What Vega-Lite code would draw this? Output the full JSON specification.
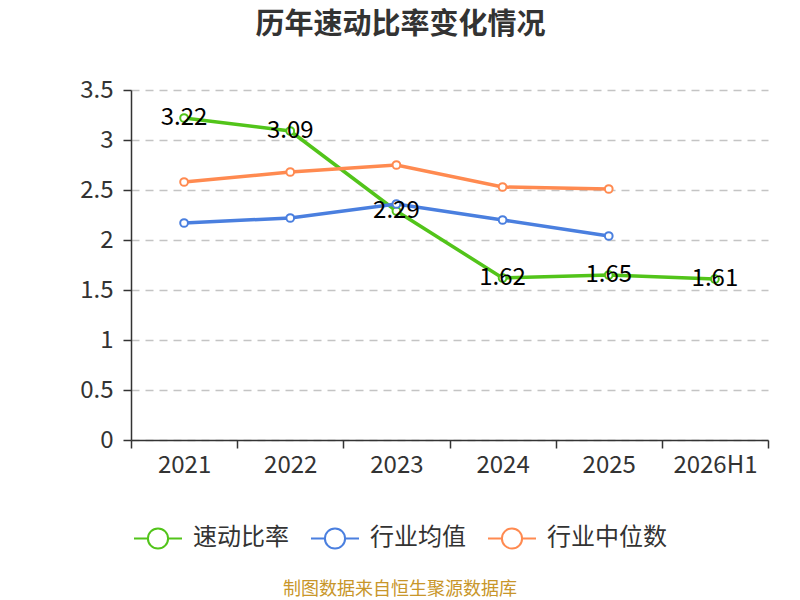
{
  "$schema": "https://vega.github.io/schema/vega-lite/v6.json",
  "width": 637,
  "height": 350,
  "autosize": {"type": "none"},
  "padding": {"left": 131, "top": 90, "right": 32, "bottom": 160},
  "background": "white",
  "config": {
    "font": "Noto Sans CJK SC",
    "view": {"stroke": null}
  },
  "title": {
    "text": "历年速动比率变化情况",
    "fontSize": 29,
    "fontWeight": "bold",
    "color": "#333333",
    "anchor": "middle",
    "frame": "group",
    "dx": -49,
    "offset": 38
  },
  "data": {
    "values": [
      {"year": "2021", "series": "速动比率", "value": 3.22},
      {"year": "2022", "series": "速动比率", "value": 3.09},
      {"year": "2023", "series": "速动比率", "value": 2.29},
      {"year": "2024", "series": "速动比率", "value": 1.62},
      {"year": "2025", "series": "速动比率", "value": 1.65},
      {"year": "2026H1", "series": "速动比率", "value": 1.61},
      {"year": "2021", "series": "行业均值", "value": 2.17},
      {"year": "2022", "series": "行业均值", "value": 2.22},
      {"year": "2023", "series": "行业均值", "value": 2.36},
      {"year": "2024", "series": "行业均值", "value": 2.2},
      {"year": "2025", "series": "行业均值", "value": 2.04},
      {"year": "2021", "series": "行业中位数", "value": 2.58},
      {"year": "2022", "series": "行业中位数", "value": 2.68},
      {"year": "2023", "series": "行业中位数", "value": 2.75},
      {"year": "2024", "series": "行业中位数", "value": 2.53},
      {"year": "2025", "series": "行业中位数", "value": 2.51}
    ]
  },
  "encoding": {
    "x": {
      "field": "year",
      "type": "ordinal",
      "sort": null,
      "scale": {"type": "band", "paddingInner": 0, "paddingOuter": 0},
      "axis": {
        "title": null,
        "labelAngle": 0,
        "labelFontSize": 24,
        "labelColor": "#333333",
        "labelPadding": 5,
        "tickBand": "extent",
        "tickSize": 8,
        "tickColor": "#333333",
        "tickWidth": 1.5,
        "domainColor": "#333333",
        "domainWidth": 1.5,
        "grid": false
      }
    },
    "y": {
      "field": "value",
      "type": "quantitative",
      "scale": {"domain": [0, 3.5], "nice": false},
      "axis": {
        "title": null,
        "values": [0, 0.5, 1, 1.5, 2, 2.5, 3, 3.5],
        "labelExpr": "datum.value",
        "labelFontSize": 24,
        "labelColor": "#333333",
        "labelPadding": 10,
        "tickSize": 8,
        "tickColor": "#333333",
        "tickWidth": 1.5,
        "domainColor": "#333333",
        "domainWidth": 1.5,
        "grid": true,
        "gridColor": "#c4c4c4",
        "gridDash": [8, 6],
        "gridWidth": 1.5
      }
    },
    "color": {
      "field": "series",
      "type": "nominal",
      "scale": {
        "domain": ["速动比率", "行业均值", "行业中位数"],
        "range": ["#52c41a", "#4a7fdf", "#ff8a50"]
      },
      "legend": {
        "title": "制图数据来自恒生聚源数据库",
        "titleOrient": "bottom",
        "titleAnchor": "middle",
        "titleColor": "#c8962a",
        "titleFontSize": 18,
        "titleFontWeight": "normal",
        "titleLimit": 600,
        "titlePadding": 28,
        "orient": "none",
        "direction": "horizontal",
        "legendX": 2,
        "legendY": 423,
        "padding": 0,
        "columnPadding": 18,
        "labelFontSize": 24,
        "labelLimit": 300,
        "labelColor": "#333333",
        "labelOffset": 10,
        "symbolType": "M-1,0L-0.42,0M0.42,0L1,0M-0.42,0A0.42,0.42,0,1,1,0.42,0A0.42,0.42,0,1,1,-0.42,0",
        "symbolSize": 2304,
        "symbolStrokeWidth": 2,
        "encode": {
          "symbols": {"update": {"fill": {"value": "white"}, "strokeWidth": {"value": 2}}}
        }
      }
    }
  },
  "layer": [
    {"mark": {"type": "line", "strokeWidth": 3.5}},
    {"mark": {"type": "point", "filled": false, "fill": "white", "size": 60, "strokeWidth": 2, "opacity": 1}},
    {
      "transform": [{"filter": "datum.series === '速动比率'"}],
      "mark": {"type": "text", "fontSize": 24, "color": "#000000", "align": "center", "baseline": "middle"},
      "encoding": {
        "text": {"field": "value", "type": "quantitative", "format": ".2f"},
        "color": {"value": "#000000"}
      }
    }
  ]
}
